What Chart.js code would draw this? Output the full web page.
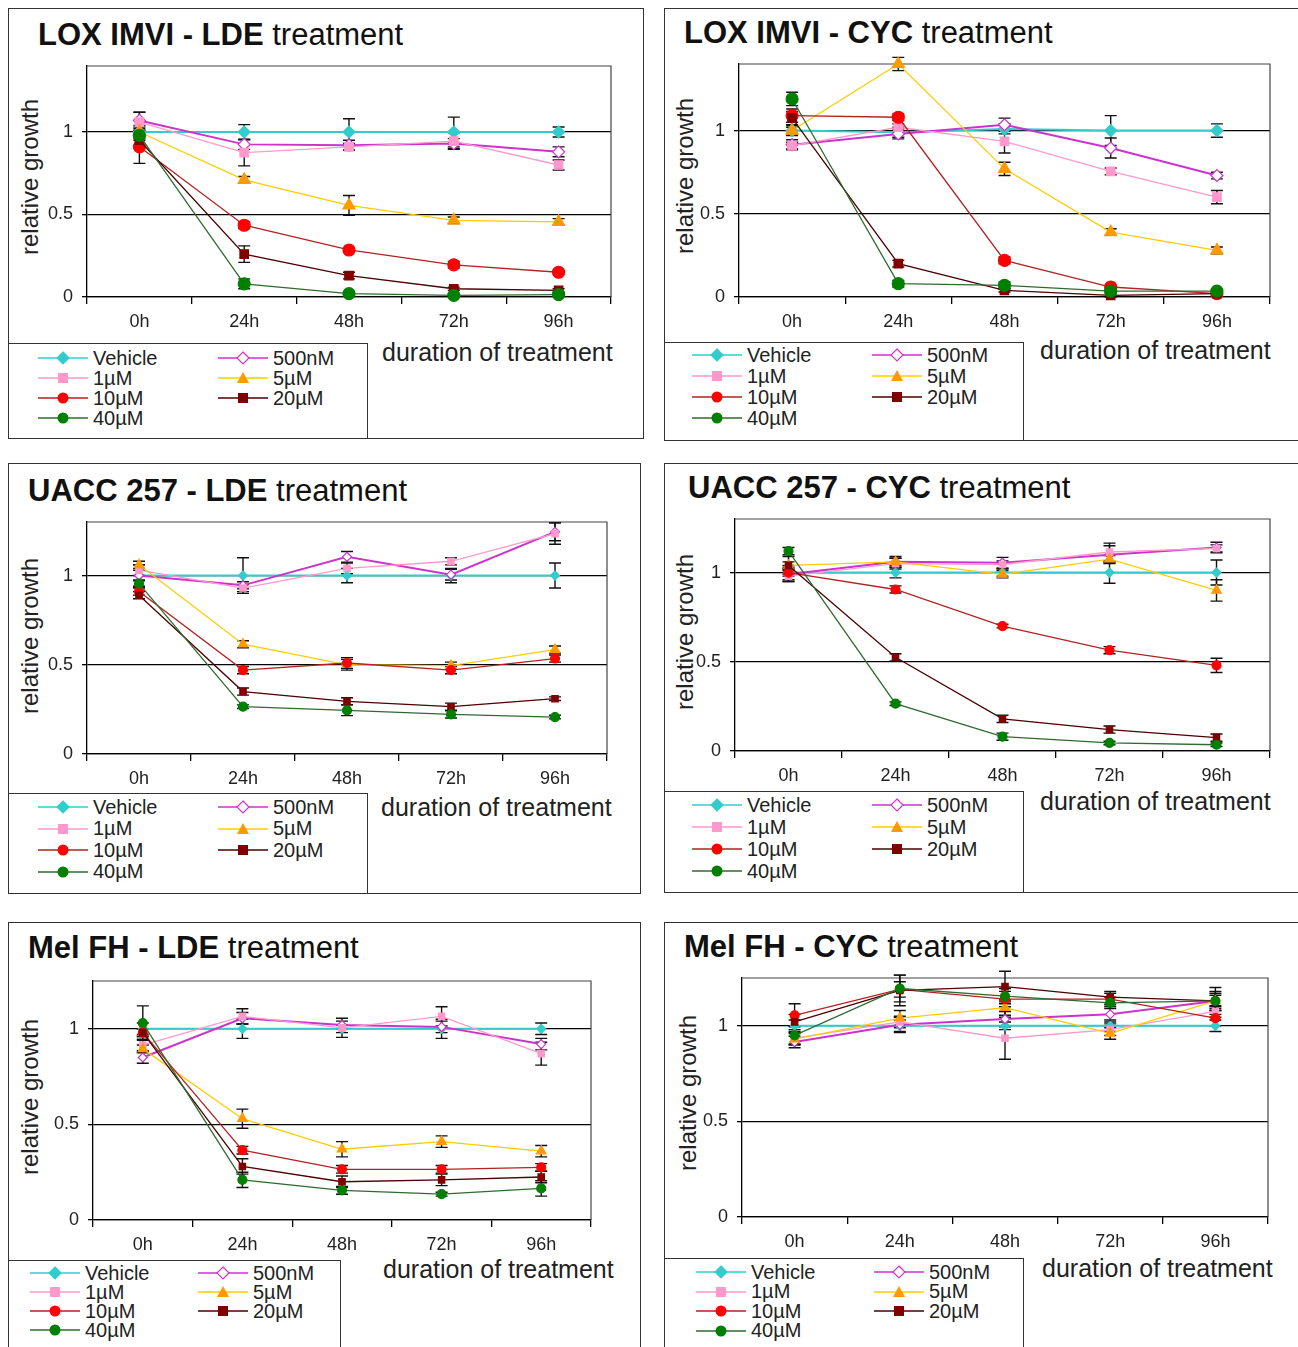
<!DOCTYPE html>
<html>
<head>
<meta charset="utf-8">
<script src="https://cdn.jsdelivr.net/npm/chart.js@4.4.1/dist/chart.umd.min.js"></script>
<style>
body { margin:0; background:#fff; font-family:"Liberation Sans", Arial, sans-serif; }
#page { position:relative; width:1298px; height:1347px; overflow:hidden; }
.box { position:absolute; border:1.5px solid #333; box-sizing:border-box; }
.title { position:absolute; font-size:31px; line-height:30px; white-space:nowrap; color:#111; }
.ylab { position:absolute; font-size:24px; white-space:nowrap; color:#222; transform:translate(-50%,-50%) rotate(-90deg); }
.xlab { position:absolute; font-size:25px; line-height:26px; white-space:nowrap; color:#222; }
.leg { position:absolute; border:1.5px solid #333; box-sizing:border-box; }
.item { position:absolute; display:flex; align-items:center; height:20px; font-size:20px; white-space:nowrap; color:#222; }
.item svg { margin-right:5px; }
canvas { position:absolute; }
</style>
</head>
<body>
<div id="page"></div>
<script>
// time points and doses
var hours = ['0h', '24h', '48h', '72h', '96h'];
var doses = ['Vehicle', '500nM', '1µM', '5µM', '10µM', '20µM', '40µM'];

// relative growth, one row per dose (Vehicle .. 40µM)
var loxLde = [
    [1.0, 1.0, 1.0, 1.0, 1.0],
    [1.07, 0.925, 0.92, 0.93, 0.88],
    [1.06, 0.875, 0.91, 0.945, 0.80],
    [1.0, 0.71, 0.555, 0.465, 0.455],
    [0.91, 0.435, 0.285, 0.195, 0.15],
    [0.95, 0.26, 0.13, 0.05, 0.04],
    [0.98, 0.08, 0.02, 0.01, 0.015]
];
var loxLdeErr = [
    [0.04, 0.045, 0.08, 0.09, 0.03],
    [0.05, 0.03, 0.03, 0.03, 0.03],
    [0.06, 0.08, 0.02, 0.05, 0.03],
    [0.03, 0.02, 0.06, 0.02, 0.02],
    [0.1, 0.02, 0.01, 0.02, 0.01],
    [0.03, 0.05, 0.02, 0.01, 0.01],
    [0.03, 0.03, 0.01, 0.01, 0.01]
];
var loxCyc = [
    [1.0, 0.99, 1.01, 1.0, 1.0],
    [0.915, 0.98, 1.035, 0.895, 0.73],
    [0.91, 1.02, 0.935, 0.755, 0.60],
    [1.0, 1.40, 0.77, 0.39, 0.28],
    [1.09, 1.08, 0.22, 0.06, 0.02],
    [1.075, 0.20, 0.04, 0.01, 0.02],
    [1.19, 0.08, 0.07, 0.035, 0.035]
];
var loxCycErr = [
    [0.03, 0.03, 0.03, 0.09, 0.04],
    [0.03, 0.03, 0.04, 0.06, 0.02],
    [0.02, 0.02, 0.07, 0.02, 0.04],
    [0.02, 0.04, 0.04, 0.02, 0.02],
    [0.04, 0.02, 0.02, 0.01, 0.01],
    [0.04, 0.02, 0.01, 0.01, 0.01],
    [0.04, 0.02, 0.02, 0.01, 0.01]
];
var uaccLde = [
    [1.0, 1.0, 1.0, 1.0, 1.0],
    [1.0, 0.945, 1.105, 1.005, 1.245],
    [1.03, 0.93, 1.04, 1.08, 1.235],
    [1.06, 0.615, 0.5, 0.495, 0.585],
    [0.91, 0.47, 0.51, 0.47, 0.535],
    [0.89, 0.35, 0.295, 0.265, 0.31],
    [0.955, 0.265, 0.245, 0.222, 0.207]
];
var uaccLdeErr = [
    [0.06, 0.1, 0.04, 0.04, 0.07],
    [0.03, 0.02, 0.03, 0.03, 0.05],
    [0.03, 0.02, 0.03, 0.02, 0.06],
    [0.02, 0.02, 0.03, 0.02, 0.02],
    [0.02, 0.02, 0.03, 0.02, 0.02],
    [0.02, 0.02, 0.02, 0.02, 0.01],
    [0.02, 0.01, 0.03, 0.02, 0.01]
];
var uaccCyc = [
    [1.0, 1.0, 1.0, 1.0, 1.0],
    [0.99, 1.06, 1.055, 1.10, 1.14],
    [0.98, 1.05, 1.045, 1.115, 1.135],
    [1.04, 1.06, 0.99, 1.075, 0.90],
    [1.0, 0.905, 0.70, 0.565, 0.48],
    [1.04, 0.525, 0.18, 0.12, 0.075],
    [1.12, 0.265, 0.08, 0.045, 0.035]
];
var uaccCycErr = [
    [0.04, 0.03, 0.02, 0.06, 0.07],
    [0.04, 0.02, 0.03, 0.05, 0.03],
    [0.03, 0.03, 0.02, 0.05, 0.02],
    [0.02, 0.03, 0.02, 0.02, 0.06],
    [0.02, 0.02, 0.01, 0.02, 0.04],
    [0.05, 0.02, 0.02, 0.02, 0.02],
    [0.02, 0.01, 0.02, 0.01, 0.01]
];
var melLde = [
    [1.0, 1.0, 1.0, 1.0, 1.0],
    [0.85, 1.055, 1.02, 1.01, 0.92],
    [0.915, 1.065, 1.005, 1.065, 0.87],
    [0.895, 0.53, 0.37, 0.41, 0.36],
    [0.98, 0.365, 0.265, 0.265, 0.275],
    [0.98, 0.28, 0.2, 0.21, 0.225],
    [1.03, 0.21, 0.155, 0.135, 0.165]
];
var melLdeErr = [
    [0.03, 0.05, 0.02, 0.05, 0.03],
    [0.03, 0.03, 0.02, 0.03, 0.03],
    [0.03, 0.04, 0.05, 0.05, 0.06],
    [0.02, 0.05, 0.04, 0.03, 0.03],
    [0.02, 0.02, 0.02, 0.02, 0.02],
    [0.02, 0.04, 0.03, 0.03, 0.03],
    [0.09, 0.04, 0.02, 0.01, 0.04]
];
var melCyc = [
    [1.0, 1.0, 1.0, 1.0, 1.0],
    [0.915, 1.005, 1.035, 1.06, 1.13],
    [0.935, 1.02, 0.935, 0.98, 1.075],
    [0.93, 1.04, 1.095, 0.96, 1.13],
    [1.055, 1.19, 1.14, 1.14, 1.04],
    [1.02, 1.185, 1.205, 1.15, 1.13],
    [0.95, 1.195, 1.155, 1.12, 1.13]
];
var melCycErr = [
    [0.03, 0.03, 0.02, 0.03, 0.03],
    [0.03, 0.04, 0.04, 0.04, 0.03],
    [0.03, 0.03, 0.11, 0.03, 0.03],
    [0.03, 0.04, 0.04, 0.03, 0.04],
    [0.06, 0.04, 0.04, 0.03, 0.04],
    [0.04, 0.08, 0.08, 0.03, 0.07],
    [0.05, 0.07, 0.04, 0.03, 0.05]
];

var FONT = "'Liberation Sans', Arial, sans-serif";

// look of each dose series
var styles = [
    { line: '#33CCCC', fill: '#33CCCC', border: '#33CCCC', shape: 'rectRot', width: 2 },
    { line: '#CC33CC', fill: '#ffffff', border: '#CC33CC', shape: 'rectRot', width: 2 },
    { line: '#FF99CC', fill: '#FF99CC', border: '#FF99CC', shape: 'rect', width: 1.3 },
    { line: '#FFCC00', fill: '#FF9900', border: '#FF9900', shape: 'triangle', width: 1.3 },
    { line: '#B22222', fill: '#FF0000', border: '#FF0000', shape: 'circle', width: 1.3 },
    { line: '#4A0000', fill: '#800000', border: '#800000', shape: 'rect', width: 1.3 },
    { line: '#2F6B2F', fill: '#008000', border: '#008000', shape: 'circle', width: 1.3 }
];

// panel layout: box [x,y,w,h], plot [l,t,r,b], legend box [x,y,w,h]
var panels = [
    { name: 'LOX IMVI - LDE', vals: loxLde, errs: loxLdeErr, ymax: 1.4, r: 6,
      box: [8, 8, 636, 431], title: [38, 20], plot: [87, 66, 611, 297], ylab: [30, 177], xlab: [382, 339],
      leg: [8, 343, 360, 96], cols: [30, 210], row0: 15, step: 20 },
    { name: 'LOX IMVI - CYC', vals: loxCyc, errs: loxCycErr, ymax: 1.4, r: 6,
      box: [664, 8, 650, 433], title: [684, 18], plot: [739, 64, 1270, 297], ylab: [685, 176], xlab: [1040, 337],
      leg: [664, 342, 360, 99], cols: [28, 208], row0: 13, step: 21 },
    { name: 'UACC 257 - LDE', vals: uaccLde, errs: uaccLdeErr, ymax: 1.3, r: 4.5,
      box: [8, 463, 633, 431], title: [28, 476], plot: [87, 522, 607, 754], ylab: [30, 636], xlab: [381, 794],
      leg: [8, 793, 360, 101], cols: [30, 210], row0: 14, step: 21.5 },
    { name: 'UACC 257 - CYC', vals: uaccCyc, errs: uaccCycErr, ymax: 1.3, r: 4.5,
      box: [664, 463, 650, 430], title: [688, 473], plot: [735, 519, 1270, 751], ylab: [685, 632], xlab: [1040, 788],
      leg: [664, 791, 360, 102], cols: [28, 208], row0: 14, step: 22 },
    { name: 'Mel FH - LDE', vals: melLde, errs: melLdeErr, ymax: 1.25, r: 4.5,
      box: [8, 922, 633, 440], title: [28, 933], plot: [93, 981, 591, 1220], ylab: [30, 1097], xlab: [383, 1256],
      leg: [8, 1260, 333, 100], cols: [22, 190], row0: 13, step: 19 },
    { name: 'Mel FH - CYC', vals: melCyc, errs: melCycErr, ymax: 1.25, r: 4.5,
      box: [664, 922, 650, 440], title: [684, 932], plot: [742, 978, 1268, 1217], ylab: [688, 1093], xlab: [1042, 1255],
      leg: [664, 1258, 360, 102], cols: [32, 210], row0: 14, step: 19.5 }
];

// top and right edge of the plot area
var framePlugin = {
    id: 'frame',
    beforeDatasetsDraw: function(chart) {
        var a = chart.chartArea, c = chart.ctx;
        c.save();
        c.strokeStyle = '#444';
        c.lineWidth = 1.2;
        c.beginPath();
        c.moveTo(a.left, a.top);
        c.lineTo(a.right, a.top);
        c.lineTo(a.right, a.bottom);
        c.stroke();
        c.restore();
    }
};

// vertical error bars from dataset.err
var errorBarPlugin = {
    id: 'errorBars',
    beforeDatasetsDraw: function(chart) {
        var c = chart.ctx, ys = chart.scales.y;
        c.save();
        c.strokeStyle = '#111';
        c.lineWidth = 1.4;
        chart.data.datasets.forEach(function(ds, i) {
            var meta = chart.getDatasetMeta(i);
            meta.data.forEach(function(pt, j) {
                var e = ds.err[j];
                if (!e) return;
                var x = pt.x;
                var y1 = ys.getPixelForValue(ds.data[j] + e);
                var y2 = ys.getPixelForValue(ds.data[j] - e);
                c.beginPath();
                c.moveTo(x, y1); c.lineTo(x, y2);
                c.moveTo(x - 6, y1); c.lineTo(x + 6, y1);
                c.moveTo(x - 6, y2); c.lineTo(x + 6, y2);
                c.stroke();
            });
        });
        c.restore();
    }
};

function el(cls, css, html) {
    var d = document.createElement('div');
    d.className = cls;
    Object.keys(css).forEach(function(k) { d.style[k] = css[k]; });
    if (html) d.innerHTML = html;
    document.getElementById('page').appendChild(d);
    return d;
}

function symbol(st) {
    var m;
    if (st.shape === 'rectRot') m = '<polygon points="25,2 31,8 25,14 19,8" fill="' + st.fill + '" stroke="' + st.border + '" stroke-width="1.2"/>';
    else if (st.shape === 'rect') m = '<rect x="20" y="3" width="10" height="10" fill="' + st.fill + '"/>';
    else if (st.shape === 'triangle') m = '<polygon points="25,2 31,13 19,13" fill="' + st.fill + '"/>';
    else m = '<circle cx="25" cy="8" r="5.5" fill="' + st.fill + '"/>';
    return '<svg width="50" height="16"><line x1="0" y1="8" x2="50" y2="8" stroke="' + st.line + '" stroke-width="1.6"/>' + m + '</svg>';
}

panels.forEach(function(p) {
    el('box', { left: p.box[0] + 'px', top: p.box[1] + 'px', width: p.box[2] + 'px', height: p.box[3] + 'px' });
    el('title', { left: p.title[0] + 'px', top: p.title[1] + 'px' }, '<b>' + p.name + '</b> treatment');
    el('ylab', { left: p.ylab[0] + 'px', top: p.ylab[1] + 'px' }, 'relative growth');
    el('xlab', { left: p.xlab[0] + 'px', top: p.xlab[1] + 'px' }, 'duration of treatment');
    el('leg', { left: p.leg[0] + 'px', top: p.leg[1] + 'px', width: p.leg[2] + 'px', height: p.leg[3] + 'px' });
    doses.forEach(function(d, k) {
        var col = k % 2, row = Math.floor(k / 2);
        el('item', { left: (p.leg[0] + p.cols[col]) + 'px', top: (p.leg[1] + p.row0 + row * p.step - 10) + 'px' },
           symbol(styles[k]) + d);
    });

    var padL = 70, padT = 20, padR = 15, padB = 40;
    var cv = document.createElement('canvas');
    var w = p.plot[2] - p.plot[0] + padL + padR;
    var h = p.plot[3] - p.plot[1] + padT + padB;
    cv.width = w; cv.height = h;
    cv.style.left = (p.plot[0] - padL) + 'px';
    cv.style.top = (p.plot[1] - padT) + 'px';
    document.getElementById('page').appendChild(cv);

    new Chart(cv.getContext('2d'), {
        type: 'line',
        data: {
            labels: hours,
            datasets: p.vals.map(function(v, i) {
                var st = styles[i];
                return {
                    label: doses[i],
                    data: v,
                    err: p.errs[i],
                    borderColor: st.line,
                    borderWidth: st.width,
                    pointStyle: st.shape,
                    pointBackgroundColor: st.fill,
                    pointBorderColor: st.border,
                    pointBorderWidth: 1.2,
                    pointRadius: st.shape === 'triangle' ? p.r + 1 : p.r,
                    tension: 0,
                    fill: false,
                    clip: false,
                    order: 7 - i
                };
            })
        },
        options: {
            responsive: false,
            animation: false,
            devicePixelRatio: 1,
            layout: { padding: { top: padT, right: padR, left: 0, bottom: 0 } },
            plugins: { legend: { display: false }, tooltip: { enabled: false } },
            scales: {
                x: {
                    type: 'category',
                    offset: true,
                    grid: { offset: true, drawOnChartArea: false, color: '#000', lineWidth: 1.3, tickLength: 7 },
                    border: { color: '#000', width: 1.3 },
                    ticks: { color: '#222', font: { size: 18, family: FONT }, padding: 7, maxRotation: 0 },
                    afterFit: function(s) { s.height = padB; }
                },
                y: {
                    min: 0,
                    max: p.ymax,
                    grid: { color: '#000', lineWidth: 1.3, tickLength: 5 },
                    border: { color: '#000', width: 1.3 },
                    ticks: {
                        stepSize: 0.5,
                        includeBounds: false,
                        color: '#222',
                        font: { size: 18, family: FONT },
                        padding: 9,
                        callback: function(v) { return String(v); }
                    },
                    afterFit: function(s) { s.width = padL; }
                }
            }
        },
        plugins: [framePlugin, errorBarPlugin]
    });
});
</script>
</body>
</html>
